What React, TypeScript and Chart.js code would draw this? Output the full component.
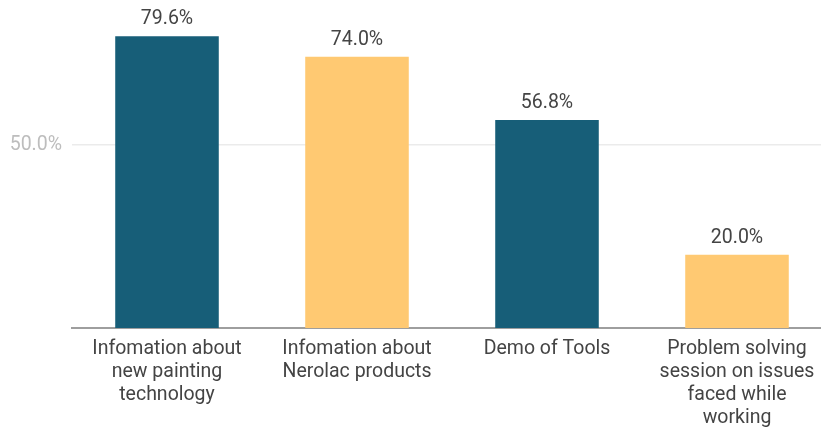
import React, { useEffect, useRef } from "react";
import { Chart, registerables } from "chart.js";

Chart.register(...registerables);

const categories: string[][] = [
  ["Infomation about", "new painting", "technology"],
  ["Infomation about", "Nerolac products"],
  ["Demo of Tools"],
  ["Problem solving", "session on issues", "faced while", "working"],
];
const values: number[] = [79.6, 74.0, 56.8, 20.0];
const barColors: string[] = ["#175E78", "#FFC972", "#175E78", "#FFC972"];
const yTicks: number[] = [50];

const FONT = "Roboto, 'Noto Sans', sans-serif";

const valueLabels = {
  id: "valueLabels",
  afterDatasetsDraw(chart: any) {
    const ctx = chart.ctx;
    const meta = chart.getDatasetMeta(0);
    ctx.save();
    ctx.font = `19.5px ${FONT}`;
    ctx.fillStyle = "#444444";
    ctx.textAlign = "center";
    ctx.textBaseline = "alphabetic";
    meta.data.forEach((bar: any, i: number) => {
      ctx.fillText(values[i].toFixed(1) + "%", bar.x, bar.y - 12);
    });
    ctx.restore();
  },
};

export default function App() {
  const ref = useRef<HTMLCanvasElement | null>(null);
  useEffect(() => {
    if (!ref.current) return;
    const chart = new Chart(ref.current, {
      type: "bar",
      data: {
        labels: categories,
        datasets: [
          {
            data: values,
            backgroundColor: barColors,
            borderWidth: 0,
            barPercentage: 0.545,
            categoryPercentage: 1,
          },
        ],
      },
      options: {
        animation: false,
        responsive: false,
        devicePixelRatio: 1,
        layout: { padding: 0 },
        plugins: { legend: { display: false }, tooltip: { enabled: false } },
        scales: {
          x: {
            grid: { display: false, drawTicks: false },
            border: { display: true, color: "#9e9e9e", width: 2 },
            ticks: {
              color: "#444444",
              font: { family: FONT, size: 19.5, lineHeight: 1.18 },
              maxRotation: 0,
              autoSkip: false,
              padding: 10,
            },
            afterFit: (s: any) => {
              s.height = 102;
            },
          },
          y: {
            min: 0,
            max: 83.6,
            grid: { color: "#ebebeb", lineWidth: 1.5, drawTicks: false },
            border: { display: false },
            ticks: {
              color: "#bdbdbd",
              font: { family: FONT, size: 19.5 },
              padding: 10,
              callback: (v: any) => Number(v).toFixed(1) + "%",
            },
            afterBuildTicks: (s: any) => {
              s.ticks = yTicks.map((v) => ({ value: v }));
            },
            afterFit: (s: any) => {
              s.width = 72;
            },
          },
        },
      },
      plugins: [valueLabels],
    });
    return () => chart.destroy();
  }, []);
  return (
    <div
      style={{
        position: "fixed",
        left: 0,
        top: 0,
        width: 821,
        height: 430,
        overflow: "hidden",
        background: "#fff",
      }}
    >
      <canvas ref={ref} width={832} height={430} style={{ display: "block" }} />
    </div>
  );
}
